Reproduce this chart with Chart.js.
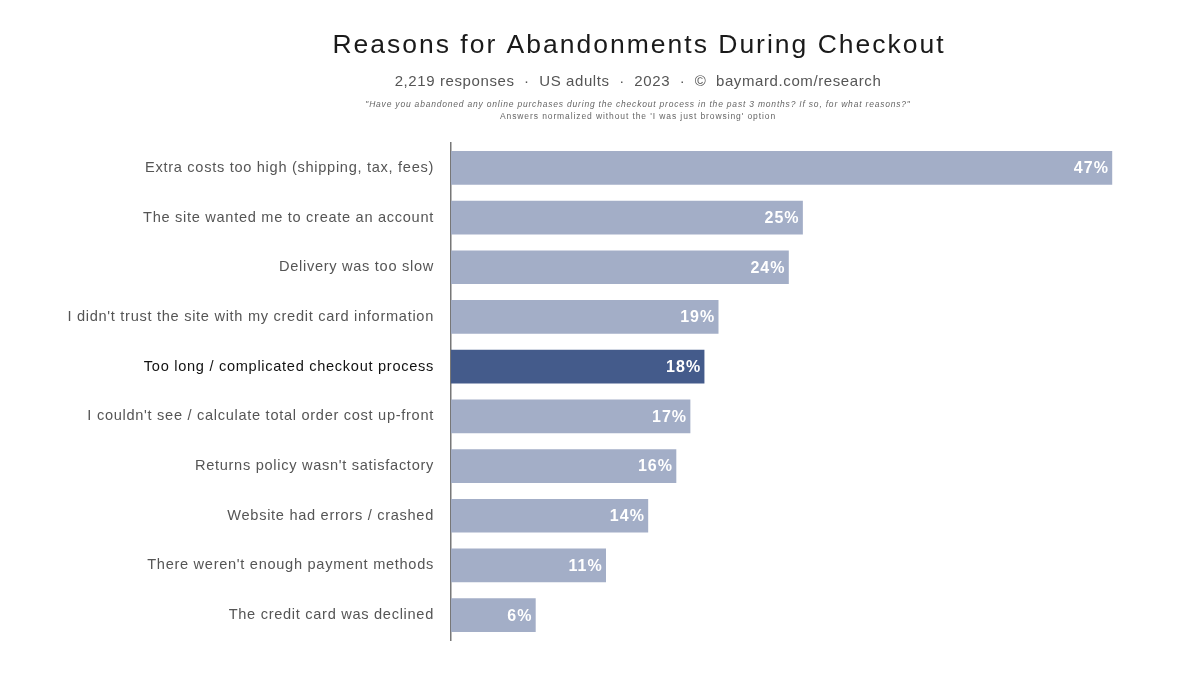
<!DOCTYPE html>
<html lang="en">
<head>
    <meta charset="UTF-8">
    <title>Reasons for Abandonments During Checkout</title>
    <script src="https://cdn.jsdelivr.net/npm/chart.js"></script>
    <style>
        body { margin: 0; background: #fff; }
        .chart-box { width: 1200px; height: 675px; }
    </style>
</head>
<body>
    <div class="chart-box">
        <canvas id="reasonsChart" width="1200" height="675"></canvas>
    </div>

    <script>
        // Survey answers, top to bottom
        const reasons = [
            'Extra costs too high (shipping, tax, fees)',
            'The site wanted me to create an account',
            'Delivery was too slow',
            "I didn't trust the site with my credit card information",
            'Too long / complicated checkout process',
            "I couldn't see / calculate total order cost up-front",
            "Returns policy wasn't satisfactory",
            'Website had errors / crashed',
            "There weren't enough payment methods",
            'The credit card was declined'
        ];
        const shares = [47, 25, 24, 19, 18, 17, 16, 14, 11, 6];
        const highlighted = ['Too long / complicated checkout process'];

        const titleText = 'Reasons for Abandonments During Checkout';
        const subtitleText = '2,219 responses  \u00b7  US adults  \u00b7  2023  \u00b7  \u00a9  baymard.com/research';
        const noteLines = [
            '"Have you abandoned any online purchases during the checkout process in the past 3 months? If so, for what reasons?"',
            "Answers normalized without the 'I was just browsing' option"
        ];

        const FONT = '"Liberation Sans", Arial, Helvetica, sans-serif';
        const isHighlighted = i => highlighted.includes(reasons[i]);

        // the source is set wide, so loosen the tracking a bit
        const tracking = {
            id: 'tracking',
            beforeDraw(chart) {
                chart.ctx.letterSpacing = '0.7px';
            }
        };

        // header texts above the plot
        const headerPlugin = {
            id: 'header',
            afterDraw(chart) {
                const ctx = chart.ctx;
                const cx = 638;
                ctx.save();
                ctx.textAlign = 'center';
                ctx.textBaseline = 'middle';
                ctx.fillStyle = '#1a1a1a';
                ctx.font = '26.5px ' + FONT;
                ctx.letterSpacing = '2px';
                ctx.fillText(titleText, cx + 1, 46);
                ctx.fillStyle = '#555';
                ctx.font = '15px ' + FONT;
                ctx.letterSpacing = '0.6px';
                ctx.fillText(subtitleText, cx, 82);
                ctx.fillStyle = '#666';
                ctx.font = 'italic 8.5px ' + FONT;
                ctx.letterSpacing = '0.8px';
                ctx.fillText(noteLines[0], cx, 105);
                ctx.font = '8.5px ' + FONT;
                ctx.letterSpacing = '0.9px';
                ctx.fillText(noteLines[1], cx, 117);
                ctx.restore();
            }
        };

        // value labels inside the bar ends
        const valueLabels = {
            id: 'valueLabels',
            afterDatasetsDraw(chart) {
                const ctx = chart.ctx;
                const meta = chart.getDatasetMeta(0);
                ctx.save();
                ctx.fillStyle = '#fff';
                ctx.font = '600 16px ' + FONT;
                ctx.letterSpacing = '1px';
                ctx.textAlign = 'right';
                ctx.textBaseline = 'middle';
                meta.data.forEach((bar, i) => {
                    ctx.fillText(shares[i] + '%', bar.x - 3, bar.y + 1);
                });
                ctx.restore();
            }
        };

        new Chart(document.getElementById('reasonsChart').getContext('2d'), {
            type: 'bar',
            data: {
                labels: reasons,
                datasets: [{
                    data: shares,
                    backgroundColor: reasons.map((r, i) => isHighlighted(i) ? '#445b8b' : '#a3aec7'),
                    borderWidth: 0,
                    barThickness: 33
                }]
            },
            options: {
                indexAxis: 'y',
                responsive: false,
                animation: false,
                layout: { padding: { top: 143, bottom: 35, right: 60, left: 0 } },
                plugins: {
                    legend: { display: false },
                    tooltip: { enabled: false }
                },
                scales: {
                    x: {
                        display: false,
                        min: 0,
                        max: 49
                    },
                    y: {
                        afterFit(scale) { scale.width = 451; },
                        grid: { display: false, drawTicks: false },
                        border: { display: true, color: '#777', width: 1.5 },
                        ticks: {
                            padding: 17,
                            font: { family: FONT, size: 14.6 },
                            color: c => isHighlighted(c.index) ? '#111' : '#555'
                        }
                    }
                }
            },
            plugins: [tracking, headerPlugin, valueLabels]
        });
    </script>
</body>
</html>
